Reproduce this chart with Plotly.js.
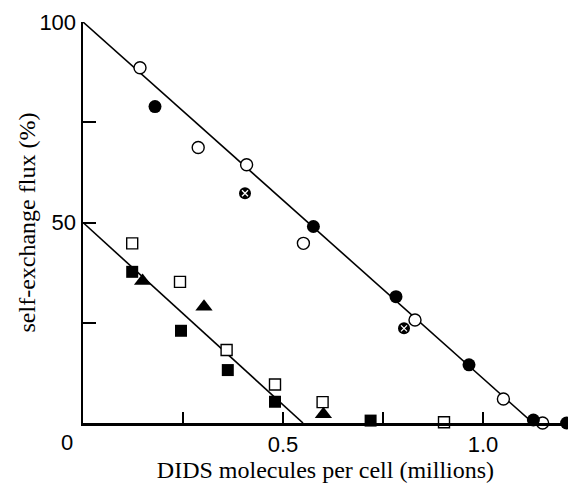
<!DOCTYPE html>
<html>
<head>
<meta charset="utf-8">
<script src="https://cdn.plot.ly/plotly-3.0.1.min.js"></script>
<style>html,body{margin:0;padding:0;background:#fff;}#chart{width:568px;height:483px;}</style>
</head>
<body>
<div id="chart"></div>
<script>
// Fitted lines
const upperLineX = [0, 1.125];
const upperLineY = [100, 0];
const lowerLineX = [0, 0.55];
const lowerLineY = [50, 0];

// Open circles
const openCircleX = [0.1425, 0.288, 0.409, 0.551, 0.83, 1.051, 1.149];
const openCircleY = [88.6, 68.7, 64.4, 44.8, 25.7, 6.0, 0];
// Filled circles
const filledCircleX = [0.18, 0.576, 0.7825, 0.965, 1.126, 1.209];
const filledCircleY = [78.9, 49.0, 31.5, 14.5, 0.75, 0];
// Crossed circles
const crossCircleX = [0.405, 0.8025];
const crossCircleY = [57.3, 23.6];
// Open squares
const openSquareX = [0.123, 0.2425, 0.359, 0.48, 0.599, 0.9025];
const openSquareY = [44.8, 35.2, 18.2, 9.6, 5.2, 0.2];
// Filled squares
const filledSquareX = [0.123, 0.245, 0.362, 0.48, 0.719];
const filledSquareY = [37.7, 23.0, 13.2, 5.3, 0.6];
// Filled triangles
const triangleX = [0.149, 0.3025, 0.601];
const triangleY = [35.4, 29.0, 2.2];

// Ticks and titles
const xTickVals = [0.25, 0.5, 0.75, 1.0];
const xTickText = ['', '0.5', '', '1.0'];
const yTickVals = [25, 50, 75, 100];
const yTickText = ['', '50', '', '100'];
const xTitle = 'DIDS molecules per cell (millions)';
const yTitle = 'self-exchange flux (%)';

const traces = [
  {x: upperLineX, y: upperLineY, mode: 'lines', line: {color: '#000', width: 1.6}},
  {x: lowerLineX, y: lowerLineY, mode: 'lines', line: {color: '#000', width: 1.6}},
  {x: openCircleX, y: openCircleY, mode: 'markers',
   marker: {symbol: 'circle', size: 12, color: '#fff', line: {color: '#000', width: 1.4}}},
  {x: filledCircleX, y: filledCircleY, mode: 'markers',
   marker: {symbol: 'circle', size: 13, color: '#000', line: {color: '#000', width: 0}}},
  {x: crossCircleX, y: crossCircleY, mode: 'markers',
   marker: {symbol: 'circle', size: 12, color: '#000', line: {color: '#000', width: 0}}},
  {x: crossCircleX, y: crossCircleY, mode: 'markers',
   marker: {symbol: 'x-thin-open', size: 6, color: '#fff', line: {color: '#fff', width: 1.3}}},
  {x: openSquareX, y: openSquareY, mode: 'markers',
   marker: {symbol: 'square', size: 11, color: '#fff', line: {color: '#000', width: 1.4}}},
  {x: filledSquareX, y: filledSquareY, mode: 'markers',
   marker: {symbol: 'square', size: 12, color: '#000', line: {color: '#000', width: 0}}},
  {x: triangleX, y: triangleY, mode: 'markers',
   marker: {symbol: 'triangle-up', size: 15, color: '#000', line: {color: '#000', width: 0}}}
];
traces.forEach(t => { t.cliponaxis = false; t.hoverinfo = 'skip'; });

const tickFont = {family: 'Liberation Sans, Arial, sans-serif', size: 22, color: '#000'};
const titleFont = {family: 'Liberation Serif, Times New Roman, serif', size: 24, color: '#000'};

const layout = {
  width: 568, height: 483,
  margin: {l: 83, r: 0, t: 22, b: 60},
  paper_bgcolor: '#fff', plot_bgcolor: '#fff',
  showlegend: false,
  xaxis: {
    range: [0, 1.2125], showgrid: false, zeroline: false,
    showline: true, linecolor: '#000', linewidth: 2.5,
    ticks: 'inside', ticklen: 11, tickwidth: 2, tickcolor: '#000',
    tickvals: xTickVals, ticktext: xTickText,
    tickfont: tickFont,
    title: {text: xTitle, standoff: 4, font: titleFont}
  },
  yaxis: {
    range: [0, 100], showgrid: false, zeroline: false,
    showline: true, linecolor: '#000', linewidth: 2.5,
    ticks: 'inside', ticklen: 13, tickwidth: 2, tickcolor: '#000',
    tickvals: yTickVals, ticktext: yTickText,
    tickfont: tickFont
  },
  annotations: [
    {x: 0, y: 0, xref: 'x', yref: 'y', text: '0', showarrow: false,
     xanchor: 'right', yanchor: 'top', xshift: -8, yshift: -5, font: tickFont},
    {x: -0.1155, y: 0.5, xref: 'paper', yref: 'paper', text: yTitle, showarrow: false,
     textangle: -90, xanchor: 'center', yanchor: 'middle', font: titleFont}
  ]
};

Plotly.newPlot('chart', traces, layout, {displayModeBar: false, staticPlot: true});
</script>
</body>
</html>
